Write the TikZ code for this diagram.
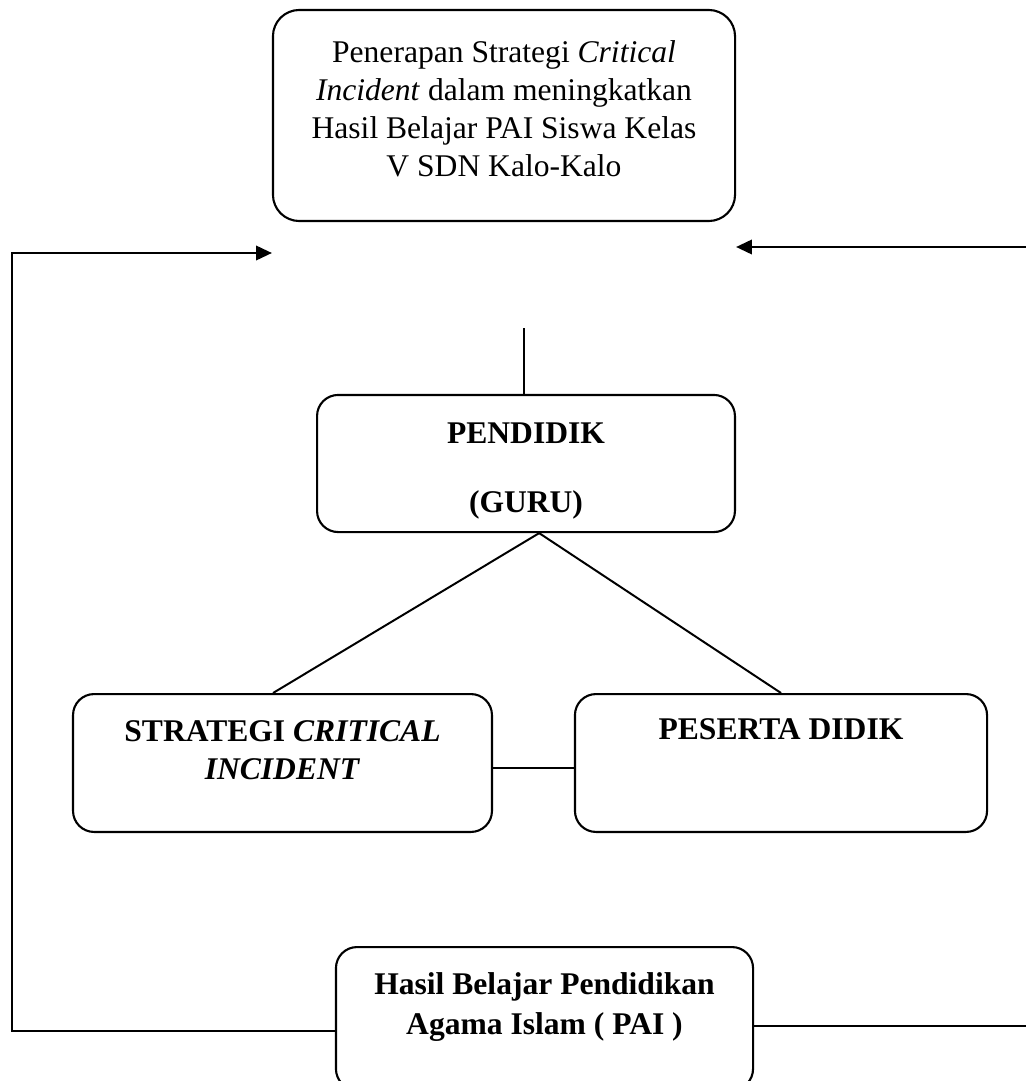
\documentclass[tikz,border=0pt]{standalone}
\usepackage{fontspec}
\setmainfont{Liberation Serif}
\usetikzlibrary{arrows.meta}

\tikzset{kotak/.style={rectangle, rounded corners=8pt, draw=black, line width=0.8pt, align=center, inner sep=0pt, text height=8pt, font=\fontsize{12}{14.4}\selectfont}}

\begin{document}
\begin{tikzpicture}[x=0.38pt, y=-0.38pt, line width=0.75pt, >={Triangle[length=6pt,width=5.5pt]}]
    \useasboundingbox (0,0) rectangle (1025,1081);

    \node [kotak, rounded corners=10pt, minimum width=175.6pt, minimum height=80.2pt, text height=48pt, text depth=2pt] (judul) at (504,115.5) {Penerapan Strategi \textit{Critical}\\ \textit{Incident} dalam meningkatkan\\ Hasil Belajar PAI Siswa Kelas\\ V SDN Kalo-Kalo};
    \node [kotak, font=\fontsize{12}{14.4}\selectfont\bfseries, minimum width=158.8pt, minimum height=52.1pt, text height=38.9pt, text depth=2pt] (pendidik) at (526,463.5) {PENDIDIK\\[11.8pt] (GURU)};
    \node [kotak, font=\fontsize{12}{14.4}\selectfont\bfseries, minimum width=159.2pt, minimum height=52.4pt, text height=14.9pt, text depth=2pt] (strategi) at (282.5,763) {STRATEGI \textit{CRITICAL}\\[0.4pt] \textit{INCIDENT}};
    \node [kotak, font=\fontsize{12}{14.4}\selectfont\bfseries, minimum width=156.6pt, minimum height=52.4pt, text depth=25.5pt] (peserta) at (781,763) {PESERTA DIDIK};
    \node [kotak, font=\fontsize{12}{14.4}\selectfont\bfseries, minimum width=158.5pt, minimum height=54.3pt, text height=14.5pt, text depth=2pt] (hasil) at (544.5,1018.5) {Hasil Belajar Pendidikan\\[0.8pt] Agama Islam ( PAI )};

    \coordinate (garis) at (524,328);
    \coordinate (kiri) at (12,253);
    \coordinate (kanan) at (1030,247);

    \draw (garis) -- (garis |- pendidik.north);
    \draw ([xshift=5pt]pendidik.south) -- ([xshift=-3.6pt]strategi.north);
    \draw ([xshift=5pt]pendidik.south) -- (peserta.north);
    \draw ([yshift=-1.9pt]strategi.east) -- ([yshift=-1.9pt]strategi.east -| peserta.west);
    \draw [->] ([yshift=-4.7pt]hasil.west) -| (kiri) -- (kiri -| judul.west);
    \draw [->] ([yshift=-2.8pt]hasil.east) -| (kanan) -- (kanan -| judul.east);
\end{tikzpicture}
\end{document}
